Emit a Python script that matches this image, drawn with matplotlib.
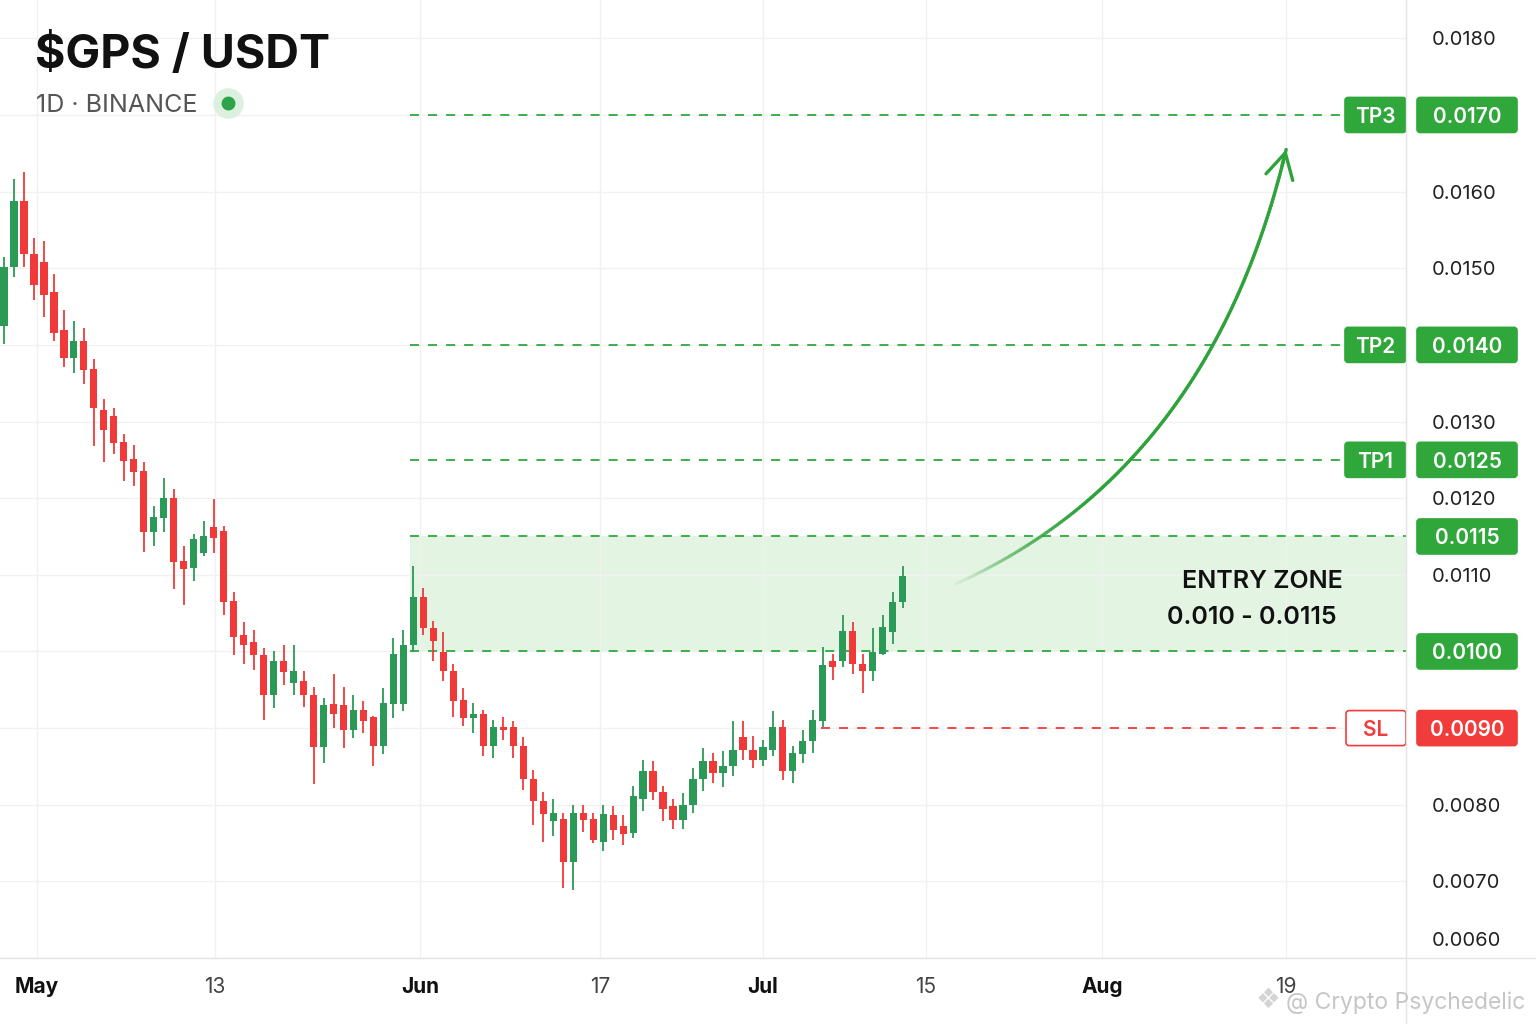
import numpy as np
import matplotlib.pyplot as plt
from matplotlib.patches import FancyBboxPatch
from matplotlib.lines import Line2D
from matplotlib.collections import LineCollection
from matplotlib.transforms import blended_transform_factory

plt.rcParams['font.family'] = ['Inter', 'DejaVu Sans']

# daily candles, oldest first
opens = [0.01424, 0.01501, 0.01588, 0.01519, 0.01508, 0.01469, 0.01419, 0.01383, 0.01405, 0.01368,
         0.01315, 0.01307, 0.01273, 0.01251, 0.01235, 0.01156, 0.01174, 0.01200, 0.01118, 0.01109,
         0.01129, 0.01163, 0.01157, 0.01066, 0.01022, 0.01012, 0.00996, 0.00943, 0.00987, 0.00959,
         0.00961, 0.00943, 0.00875, 0.00931, 0.00930, 0.00897, 0.00923, 0.00914, 0.00877, 0.00931,
         0.00932, 0.01008, 0.01071, 0.01030, 0.00999, 0.00975, 0.00937, 0.00913, 0.00919, 0.00877,
         0.00902, 0.00902, 0.00877, 0.00834, 0.00805, 0.00779, 0.00781, 0.00725, 0.00789, 0.00782,
         0.00752, 0.00786, 0.00772, 0.00763, 0.00808, 0.00844, 0.00816, 0.00798, 0.00780, 0.00799,
         0.00834, 0.00857, 0.00842, 0.00850, 0.00889, 0.00872, 0.00859, 0.00872, 0.00901, 0.00844,
         0.00866, 0.00883, 0.00909, 0.00987, 0.00988, 0.01027, 0.00983, 0.00974, 0.00997, 0.01026,
         0.01065]
highs = [0.01515, 0.01616, 0.01626, 0.01539, 0.01535, 0.01492, 0.01446, 0.01431, 0.01422, 0.01381,
         0.01329, 0.01318, 0.01284, 0.01269, 0.01247, 0.01190, 0.01226, 0.01212, 0.01137, 0.01153,
         0.01170, 0.01199, 0.01164, 0.01078, 0.01039, 0.01028, 0.01004, 0.01001, 0.01009, 0.01009,
         0.00975, 0.00953, 0.00939, 0.00970, 0.00953, 0.00943, 0.00935, 0.00916, 0.00952, 0.01018,
         0.01028, 0.01112, 0.01083, 0.01040, 0.01025, 0.00983, 0.00952, 0.00933, 0.00923, 0.00910,
         0.00915, 0.00909, 0.00888, 0.00845, 0.00816, 0.00807, 0.00789, 0.00799, 0.00799, 0.00789,
         0.00799, 0.00798, 0.00786, 0.00824, 0.00858, 0.00857, 0.00825, 0.00808, 0.00815, 0.00848,
         0.00874, 0.00868, 0.00870, 0.00909, 0.00909, 0.00890, 0.00884, 0.00922, 0.00910, 0.00876,
         0.00897, 0.00923, 0.01006, 0.00997, 0.01047, 0.01039, 0.00997, 0.01030, 0.01047, 0.01078,
         0.01112]
lows = [0.01401, 0.01488, 0.01501, 0.01459, 0.01436, 0.01405, 0.01371, 0.01363, 0.01349, 0.01268,
        0.01247, 0.01258, 0.01222, 0.01216, 0.01130, 0.01138, 0.01156, 0.01081, 0.01060, 0.01092,
        0.01125, 0.01129, 0.01048, 0.00995, 0.00983, 0.00976, 0.00911, 0.00926, 0.00956, 0.00943,
        0.00927, 0.00827, 0.00854, 0.00900, 0.00874, 0.00887, 0.00894, 0.00850, 0.00866, 0.00913,
        0.00922, 0.00999, 0.01022, 0.00988, 0.00962, 0.00915, 0.00903, 0.00893, 0.00864, 0.00861,
        0.00884, 0.00861, 0.00819, 0.00773, 0.00752, 0.00759, 0.00691, 0.00689, 0.00765, 0.00750,
        0.00739, 0.00754, 0.00747, 0.00756, 0.00792, 0.00806, 0.00779, 0.00768, 0.00768, 0.00789,
        0.00818, 0.00828, 0.00823, 0.00838, 0.00858, 0.00848, 0.00850, 0.00864, 0.00832, 0.00828,
        0.00855, 0.00867, 0.00901, 0.00963, 0.00980, 0.00971, 0.00946, 0.00961, 0.00995, 0.01010,
        0.01057]
closes = [0.01502, 0.01588, 0.01518, 0.01478, 0.01465, 0.01416, 0.01383, 0.01405, 0.01367, 0.01318,
          0.01289, 0.01272, 0.01248, 0.01234, 0.01156, 0.01176, 0.01200, 0.01117, 0.01108, 0.01147,
          0.01150, 0.01148, 0.01065, 0.01019, 0.01009, 0.00996, 0.00943, 0.00987, 0.00973, 0.00974,
          0.00943, 0.00875, 0.00930, 0.00919, 0.00897, 0.00924, 0.00909, 0.00877, 0.00933, 0.00997,
          0.01009, 0.01071, 0.01031, 0.01013, 0.00975, 0.00935, 0.00913, 0.00919, 0.00877, 0.00902,
          0.00897, 0.00876, 0.00834, 0.00805, 0.00788, 0.00789, 0.00725, 0.00789, 0.00780, 0.00754,
          0.00788, 0.00767, 0.00762, 0.00811, 0.00844, 0.00816, 0.00795, 0.00780, 0.00799, 0.00834,
          0.00857, 0.00842, 0.00851, 0.00872, 0.00871, 0.00859, 0.00875, 0.00901, 0.00844, 0.00867,
          0.00883, 0.00910, 0.00982, 0.00980, 0.01027, 0.00983, 0.00974, 0.00999, 0.01032, 0.01065,
          0.01099]

price_ticks = [0.0180, 0.0160, 0.0150, 0.0130, 0.0120, 0.0110, 0.0080, 0.0070, 0.0060]
date_labels = ['May', '13', 'Jun', '17', 'Jul', '15', 'Aug', '19']
date_pos = [3.3, 21.1, 41.7, 59.7, 76.0, 92.3, 110.0, 128.4]
months = ['May', 'Jun', 'Jul', 'Aug']

tp_names = ['TP3', 'TP2', 'TP1']
tp_prices = [0.0170, 0.0140, 0.0125]
entry_low, entry_high = 0.0100, 0.0115
stop_loss = 0.0090

UP = '#2b9a56'
DOWN = '#f03a3a'
LVL_GREEN = '#2fa83c'
BOX_GREEN = '#2fa73a'
ZONE = '#e3f4e3'
SL_RED = '#f23b3b'

W, H = 1536, 1024
fig = plt.figure(figsize=(W / 100, H / 100), dpi=100)
fig.patch.set_facecolor('white')
ax = fig.add_axes([0, 1 - 958 / H, 1406 / W, 958 / H])

y_lo, y_hi = 0.00603, 0.0185
x_lo, x_hi = -0.4, 140.4
ax.set_xlim(x_lo, x_hi)
ax.set_ylim(y_lo, y_hi)
for s in ax.spines.values():
    s.set_visible(False)

# grid
ax.set_yticks(np.arange(0.006, 0.0185, 0.001))
ax.set_xticks(date_pos, date_labels)
ax.grid(True, color='#f1f1f1', lw=1, zorder=0)
ax.tick_params(axis='y', length=0, labelleft=False, labelright=False)
ax.tick_params(axis='x', length=0, pad=14, labelsize=15)
for lbl in ax.get_xticklabels():
    if lbl.get_text() in months:
        lbl.set_fontweight('bold')
        lbl.set_color('#111111')
    else:
        lbl.set_color('#444444')

# candles
o = np.array(opens)
h = np.array(highs)
l = np.array(lows)
c = np.array(closes)
x = np.arange(len(o))
cols = np.where(c >= o, UP, DOWN)
ax.vlines(x, l, h, colors=cols, lw=1.3, zorder=3)
ax.bar(x, np.maximum(np.abs(c - o), 0.00003), bottom=np.minimum(o, c), width=0.72,
       color=cols, linewidth=0, zorder=4)

# levels
lvl_start, lvl_end, sl_start = 40.7, 133.9, 81.8
dash = (0, (5, 5))
ax.fill_between([lvl_start, x_hi], entry_low, entry_high, color=ZONE, lw=0, zorder=1)
ax.hlines(tp_prices, lvl_start, lvl_end, colors=LVL_GREEN, linestyles=dash, lw=1.3, zorder=2)
ax.hlines([entry_low, entry_high], lvl_start, x_hi, colors=LVL_GREEN, linestyles=dash, lw=1.3, zorder=2)
ax.hlines(stop_loss, sl_start, lvl_end, colors=SL_RED, linestyles=dash, lw=1.3, zorder=2)

ax.text(126.0, 0.01094, 'ENTRY ZONE', ha='center', va='center_baseline', fontsize=18,
        fontweight='semibold', color='#111111', zorder=5)
ax.text(125.0, 0.01047, '0.010 - 0.0115', ha='center', va='center_baseline', fontsize=18,
        fontweight='semibold', color='#111111', zorder=5)

# curved arrow toward TP3
p0 = np.array([95.3, 0.01088])
pc = np.array([120.8, 0.01238])
p2 = np.array([128.4, 0.01655])
t = np.linspace(0, 1, 200)[:, None]
curve = (1 - t) ** 2 * p0 + 2 * (1 - t) * t * pc + t ** 2 * p2
segs = np.stack([curve[:-1], curve[1:]], axis=1)
rgba = np.tile(np.array([0.18, 0.64, 0.23, 1.0]), (len(segs), 1))
rgba[:, 3] = np.clip(t[:-1, 0] / 0.3, 0.05, 1.0)
ax.add_collection(LineCollection(segs, colors=rgba, lw=2.4, capstyle='round', zorder=6))
ax.annotate('', xy=curve[-1], xytext=curve[-6],
            arrowprops=dict(arrowstyle='->,head_length=1.0,head_width=0.55', mutation_scale=18,
                            color='#2ea33a', lw=2.4, shrinkA=0, shrinkB=0), zorder=6)

# right price scale
ytr = blended_transform_factory(fig.transFigure, ax.transData)
for p in price_ticks:
    yp = max(p, y_lo + 0.00022)
    ax.text(1432 / W, yp, f'{p:.4f}', transform=ytr, ha='left', va='center_baseline',
            fontsize=14.5, color='#222222')


def label_box(x0, w, price, text, face, edge, tcolor):
    yc = ax.transData.transform((0, price))[1] / H
    bh = 35 / H
    box = FancyBboxPatch((x0 / W, yc - bh / 2), w / W, bh,
                         boxstyle='round,pad=0,rounding_size=0.002', mutation_aspect=1.5,
                         transform=fig.transFigure, facecolor=face, edgecolor=edge, lw=1.2)
    fig.add_artist(box)
    fig.text((x0 + w / 2) / W, yc, text, ha='center', va='center_baseline',
             fontsize=15, fontweight='semibold', color=tcolor)


for name, p in zip(tp_names, tp_prices):
    label_box(1345, 61, p, name, BOX_GREEN, BOX_GREEN, 'white')
    label_box(1417, 100, p, f'{p:.4f}', BOX_GREEN, BOX_GREEN, 'white')
label_box(1417, 100, entry_high, f'{entry_high:.4f}', BOX_GREEN, BOX_GREEN, 'white')
label_box(1417, 100, entry_low, f'{entry_low:.4f}', BOX_GREEN, BOX_GREEN, 'white')
label_box(1346, 60, stop_loss, 'SL', 'white', SL_RED, SL_RED)
label_box(1417, 100, stop_loss, f'{stop_loss:.4f}', SL_RED, SL_RED, 'white')

# frame lines
fig.add_artist(Line2D([0, 1], [1 - 958 / H] * 2, color='#e4e4e4', lw=1, transform=fig.transFigure))
fig.add_artist(Line2D([1406 / W] * 2, [0, 1], color='#e4e4e4', lw=1, transform=fig.transFigure))

# header
fig.text(35 / W, 1 - 68 / H, r'\$GPS / USDT', fontsize=33.5, fontweight='bold', color='#111111',
         va='baseline')
fig.text(36 / W, 1 - 112 / H, '1D · BINANCE', fontsize=18, color='#555555', va='baseline')
fig.add_artist(Line2D([228 / W], [1 - 103 / H], marker='o', ms=21, color='#dcf0df', lw=0,
                      transform=fig.transFigure))
fig.add_artist(Line2D([228 / W], [1 - 103 / H], marker='o', ms=9, color='#2ea34a', lw=0,
                      transform=fig.transFigure))

# watermark
fig.text(1268 / W, 1 - 1000 / H, '❖', fontsize=20, color='#d4d4d4', ha='center', va='center',
         family='DejaVu Sans')
fig.text(1286 / W, 1 - 1000 / H, '@ Crypto Psychedelic', fontsize=16.5, color='#c6c6c6',
         ha='left', va='center_baseline')

fig.savefig('out.png', dpi=100, facecolor='white')
